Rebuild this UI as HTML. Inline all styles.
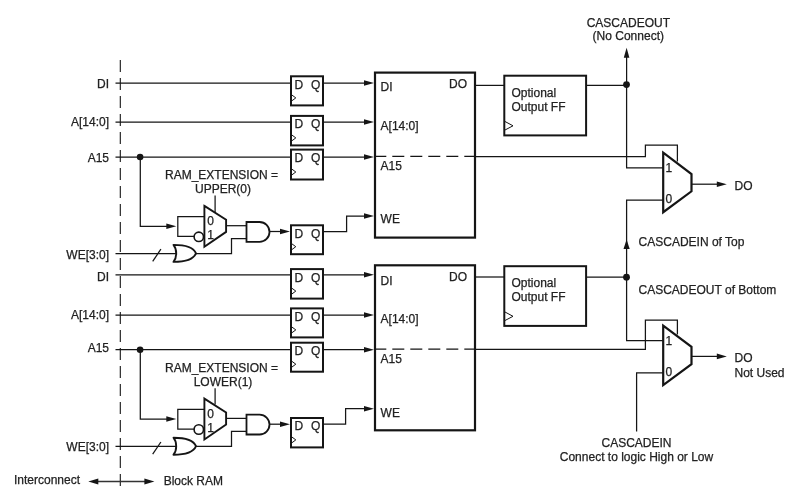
<!DOCTYPE html>
<html><head><meta charset="utf-8"><style>
html,body{margin:0;padding:0;background:#fff;}
svg{display:block;will-change:transform;}
text{font-family:"Liberation Sans",sans-serif;fill:#222;stroke:#222;stroke-width:0.25px;}
</style></head><body>
<svg width="791" height="489" viewBox="0 0 791 489">
<rect width="791" height="489" fill="#fff"/>
<path d="M120.3,60 V486" stroke="#151515" stroke-width="1.1" fill="none" stroke-dasharray="12 6"/><text x="109" y="87.8" text-anchor="end" font-size="12">DI</text><text x="109" y="126.4" text-anchor="end" font-size="12">A[14:0]</text><text x="109" y="161.7" text-anchor="end" font-size="12">A15</text><text x="109" y="258.8" text-anchor="end" font-size="12">WE[3:0]</text><path d="M115.5,83 H290" stroke="#151515" stroke-width="1.25" fill="none"/><path d="M115.5,122 H290" stroke="#151515" stroke-width="1.25" fill="none"/><path d="M115.5,157 H290" stroke="#151515" stroke-width="1.25" fill="none"/><path d="M115.5,253.5 H176" stroke="#151515" stroke-width="1.25" fill="none"/><circle cx="140.1" cy="157" r="3.3" fill="#151515"/><path d="M140.3,157 V226.3 H170" stroke="#151515" stroke-width="1.25" fill="none"/><path d="M166.3,223.5 L176.3,226.3 L166.3,229.10000000000002 Z" fill="#151515"/><path d="M204.4,216.60000000000002 H177.8 V236.40000000000003 H194" stroke="#151515" stroke-width="1.25" fill="none"/><circle cx="198.8" cy="236.8" r="4.7" fill="none" stroke="#151515" stroke-width="1.6"/><path d="M204.4,205.90000000000003 L226.1,219.70000000000002 V231.90000000000003 L204.4,246.8 Z" fill="white" stroke="#151515" stroke-width="1.9"/><text x="207.2" y="224.90000000000003" text-anchor="start" font-size="12">0</text><text x="207.2" y="239.00000000000003" text-anchor="start" font-size="12">1</text><path d="M215.1,195.60000000000002 V211.90000000000003" stroke="#151515" stroke-width="1.25" fill="none"/><text x="221.5" y="178.70000000000002" text-anchor="middle" font-size="12">RAM_EXTENSION =</text><text x="223" y="193.10000000000002" text-anchor="middle" font-size="12">UPPER(0)</text><path d="M226.1,225.70000000000002 H246" stroke="#151515" stroke-width="1.25" fill="none"/><path d="M246.5,222.00000000000003 H259.6 A9.9,9.9 0 0 1 259.6,241.8 H246.5 Z" fill="white" stroke="#151515" stroke-width="1.8"/><path d="M269,231.50000000000003 H280" stroke="#151515" stroke-width="1.25" fill="none"/><path d="M280,228.70000000000002 L290,231.50000000000003 L280,234.30000000000004 Z" fill="#151515"/><path d="M195.4,253.5 H231.5 V238.60000000000002 H246" stroke="#151515" stroke-width="1.25" fill="none"/><path d="M173.5,244.9 C188,244.9 194,248.5 196,253.3 C194,258.1 188,261.9 173.5,261.9 C177.1,257.5 177.1,249.3 173.5,244.9 Z" fill="white" stroke="#151515" stroke-width="1.9" stroke-linejoin="round"/><path d="M152.7,261.3 L160.9,249.2" stroke="#151515" stroke-width="1.25" fill="none"/><rect x="291" y="76.3" width="32" height="29.1" fill="none" stroke="#151515" stroke-width="2"/><text x="294.5" y="88.7" text-anchor="start" font-size="12">D</text><text x="311" y="88.7" text-anchor="start" font-size="12">Q</text><path d="M292,95.10000000000001 L295.8,97.9 L292,100.7" fill="none" stroke="#151515" stroke-width="1"/><rect x="291" y="115.9" width="32" height="29.5" fill="none" stroke="#151515" stroke-width="2"/><text x="294.5" y="128.3" text-anchor="start" font-size="12">D</text><text x="311" y="128.3" text-anchor="start" font-size="12">Q</text><path d="M292,135.1 L295.8,137.9 L292,140.70000000000002" fill="none" stroke="#151515" stroke-width="1"/><rect x="291" y="149.6" width="32" height="29.9" fill="none" stroke="#151515" stroke-width="2"/><text x="294.5" y="162.0" text-anchor="start" font-size="12">D</text><text x="311" y="162.0" text-anchor="start" font-size="12">Q</text><path d="M292,169.2 L295.8,172.0 L292,174.8" fill="none" stroke="#151515" stroke-width="1"/><rect x="291" y="225.3" width="32" height="28.9" fill="none" stroke="#151515" stroke-width="2"/><text x="294.5" y="237.70000000000002" text-anchor="start" font-size="12">D</text><text x="311" y="237.70000000000002" text-anchor="start" font-size="12">Q</text><path d="M292,243.9 L295.8,246.70000000000002 L292,249.50000000000003" fill="none" stroke="#151515" stroke-width="1"/><path d="M323,83 H366" stroke="#151515" stroke-width="1.25" fill="none"/><path d="M364,80.2 L374,83 L364,85.8 Z" fill="#151515"/><path d="M323,122 H366" stroke="#151515" stroke-width="1.25" fill="none"/><path d="M364,119.2 L374,122 L364,124.8 Z" fill="#151515"/><path d="M323,157 H366" stroke="#151515" stroke-width="1.25" fill="none"/><path d="M364,154.2 L374,157 L364,159.8 Z" fill="#151515"/><path d="M323,231.50000000000003 H346.6 V216.0 H366" stroke="#151515" stroke-width="1.25" fill="none"/><path d="M364,213.2 L374,216.0 L364,218.8 Z" fill="#151515"/><rect x="375" y="72.6" width="100" height="165" fill="none" stroke="#151515" stroke-width="2.2"/><text x="380.6" y="91.2" text-anchor="start" font-size="12">DI</text><text x="380.6" y="129.6" text-anchor="start" font-size="12">A[14:0]</text><text x="380.6" y="169.5" text-anchor="start" font-size="12">A15</text><text x="380.6" y="223.2" text-anchor="start" font-size="12">WE</text><text x="467" y="87.8" text-anchor="end" font-size="12">DO</text><path d="M374.3,156.4 H475" stroke="#151515" stroke-width="1.25" fill="none" stroke-dasharray="12 6"/><path d="M475,85.4 H504" stroke="#151515" stroke-width="1.25" fill="none"/><rect x="504.3" y="75.7" width="81.8" height="59.7" fill="none" stroke="#151515" stroke-width="2"/><text x="511.5" y="96.8" text-anchor="start" font-size="12">Optional</text><text x="511.5" y="110.8" text-anchor="start" font-size="12">Output FF</text><path d="M505,121.5 L513,125.8 L505,130.0" fill="none" stroke="#151515" stroke-width="1"/><path d="M587,85.4 H626.6" stroke="#151515" stroke-width="1.25" fill="none"/><circle cx="626.5" cy="84.6" r="3.4" fill="#151515"/><path d="M626.6,84.6 V167.8 H663" stroke="#151515" stroke-width="1.25" fill="none"/><path d="M475,156.6 H645.4 V145.2 H677.4 V161.5" stroke="#151515" stroke-width="1.25" fill="none"/><path d="M663.2,152.7 L691.5,174.0 V191.3 L663.2,212.2 Z" fill="none" stroke="#151515" stroke-width="2.2"/><text x="665.5" y="172.0" text-anchor="start" font-size="12">1</text><text x="665.5" y="203.4" text-anchor="start" font-size="12">0</text><path d="M691.5,184.2 H718" stroke="#151515" stroke-width="1.25" fill="none"/><path d="M716.8,181.39999999999998 L726.8,184.2 L716.8,187.0 Z" fill="#151515"/><text x="734.5" y="189.79999999999998" text-anchor="start" font-size="12">DO</text><text x="109" y="280.9" text-anchor="end" font-size="12">DI</text><text x="109" y="319.3" text-anchor="end" font-size="12">A[14:0]</text><text x="109" y="352.4" text-anchor="end" font-size="12">A15</text><text x="109" y="450.8" text-anchor="end" font-size="12">WE[3:0]</text><path d="M115.5,274.8 H290" stroke="#151515" stroke-width="1.25" fill="none"/><path d="M115.5,315 H290" stroke="#151515" stroke-width="1.25" fill="none"/><path d="M115.5,349.7 H290" stroke="#151515" stroke-width="1.25" fill="none"/><path d="M115.5,446.3 H176" stroke="#151515" stroke-width="1.25" fill="none"/><circle cx="140.1" cy="349.7" r="3.3" fill="#151515"/><path d="M140.3,349.7 V419.0 H170" stroke="#151515" stroke-width="1.25" fill="none"/><path d="M166.3,416.2 L176.3,419.0 L166.3,421.8 Z" fill="#151515"/><path d="M204.4,409.3 H177.8 V429.1 H194" stroke="#151515" stroke-width="1.25" fill="none"/><circle cx="198.8" cy="429.5" r="4.7" fill="none" stroke="#151515" stroke-width="1.6"/><path d="M204.4,398.6 L226.1,412.4 V424.6 L204.4,439.5 Z" fill="white" stroke="#151515" stroke-width="1.9"/><text x="207.2" y="417.6" text-anchor="start" font-size="12">0</text><text x="207.2" y="431.70000000000005" text-anchor="start" font-size="12">1</text><path d="M215.1,388.3 V404.6" stroke="#151515" stroke-width="1.25" fill="none"/><text x="221.5" y="372.09999999999997" text-anchor="middle" font-size="12">RAM_EXTENSION =</text><text x="223" y="386.22" text-anchor="middle" font-size="12">LOWER(1)</text><path d="M226.1,418.4 H246" stroke="#151515" stroke-width="1.25" fill="none"/><path d="M246.5,414.70000000000005 H259.6 A9.9,9.9 0 0 1 259.6,434.5 H246.5 Z" fill="white" stroke="#151515" stroke-width="1.8"/><path d="M269,424.20000000000005 H280" stroke="#151515" stroke-width="1.25" fill="none"/><path d="M280,421.40000000000003 L290,424.20000000000005 L280,427.00000000000006 Z" fill="#151515"/><path d="M195.4,446.3 H231.5 V431.3 H246" stroke="#151515" stroke-width="1.25" fill="none"/><path d="M173.5,437.7 C188,437.7 194,441.3 196,446.1 C194,450.90000000000003 188,454.7 173.5,454.7 C177.1,450.3 177.1,442.1 173.5,437.7 Z" fill="white" stroke="#151515" stroke-width="1.9" stroke-linejoin="round"/><path d="M152.7,454.1 L160.9,442.0" stroke="#151515" stroke-width="1.25" fill="none"/><rect x="291" y="269.1" width="32" height="29.5" fill="none" stroke="#151515" stroke-width="2"/><text x="294.5" y="281.5" text-anchor="start" font-size="12">D</text><text x="311" y="281.5" text-anchor="start" font-size="12">Q</text><path d="M292,288.3 L295.8,291.1 L292,293.90000000000003" fill="none" stroke="#151515" stroke-width="1"/><rect x="291" y="308.4" width="32" height="29" fill="none" stroke="#151515" stroke-width="2"/><text x="294.5" y="320.79999999999995" text-anchor="start" font-size="12">D</text><text x="311" y="320.79999999999995" text-anchor="start" font-size="12">Q</text><path d="M292,327.09999999999997 L295.8,329.9 L292,332.7" fill="none" stroke="#151515" stroke-width="1"/><rect x="291" y="342.7" width="32" height="29" fill="none" stroke="#151515" stroke-width="2"/><text x="294.5" y="355.09999999999997" text-anchor="start" font-size="12">D</text><text x="311" y="355.09999999999997" text-anchor="start" font-size="12">Q</text><path d="M292,361.4 L295.8,364.2 L292,367.0" fill="none" stroke="#151515" stroke-width="1"/><rect x="291" y="418" width="32" height="29.4" fill="none" stroke="#151515" stroke-width="2"/><text x="294.5" y="430.4" text-anchor="start" font-size="12">D</text><text x="311" y="430.4" text-anchor="start" font-size="12">Q</text><path d="M292,437.09999999999997 L295.8,439.9 L292,442.7" fill="none" stroke="#151515" stroke-width="1"/><path d="M323,274.8 H366" stroke="#151515" stroke-width="1.25" fill="none"/><path d="M364,272.0 L374,274.8 L364,277.6 Z" fill="#151515"/><path d="M323,315 H366" stroke="#151515" stroke-width="1.25" fill="none"/><path d="M364,312.2 L374,315 L364,317.8 Z" fill="#151515"/><path d="M323,349.7 H366" stroke="#151515" stroke-width="1.25" fill="none"/><path d="M364,346.9 L374,349.7 L364,352.5 Z" fill="#151515"/><path d="M323,424.20000000000005 H345.6 V408.70000000000005 H366" stroke="#151515" stroke-width="1.25" fill="none"/><path d="M364,405.90000000000003 L374,408.70000000000005 L364,411.50000000000006 Z" fill="#151515"/><rect x="375" y="265.3" width="100" height="165" fill="none" stroke="#151515" stroke-width="2.2"/><text x="380.6" y="284.6" text-anchor="start" font-size="12">DI</text><text x="380.6" y="323.0" text-anchor="start" font-size="12">A[14:0]</text><text x="380.6" y="362.9" text-anchor="start" font-size="12">A15</text><text x="380.6" y="416.6" text-anchor="start" font-size="12">WE</text><text x="467" y="280.5" text-anchor="end" font-size="12">DO</text><path d="M374.3,349.09999999999997 H475" stroke="#151515" stroke-width="1.25" fill="none" stroke-dasharray="12 6"/><path d="M475,277 H504" stroke="#151515" stroke-width="1.25" fill="none"/><rect x="504.3" y="266.2" width="81.8" height="59.7" fill="none" stroke="#151515" stroke-width="2"/><text x="511.5" y="287.3" text-anchor="start" font-size="12">Optional</text><text x="511.5" y="301.3" text-anchor="start" font-size="12">Output FF</text><path d="M505,312.0 L513,316.3 L505,320.5" fill="none" stroke="#151515" stroke-width="1"/><path d="M587,277 H626.6" stroke="#151515" stroke-width="1.25" fill="none"/><circle cx="626.5" cy="277.2" r="3.4" fill="#151515"/><path d="M626.6,277.2 V340.5 H663" stroke="#151515" stroke-width="1.25" fill="none"/><path d="M475,349.3 H645.4 V320.2 H677.4 V334.40000000000003" stroke="#151515" stroke-width="1.25" fill="none"/><path d="M663.2,325.6 L691.5,346.90000000000003 V364.20000000000005 L663.2,385.1 Z" fill="none" stroke="#151515" stroke-width="2.2"/><text x="665.5" y="344.90000000000003" text-anchor="start" font-size="12">1</text><text x="665.5" y="376.30000000000007" text-anchor="start" font-size="12">0</text><path d="M691.5,356.4 H718" stroke="#151515" stroke-width="1.25" fill="none"/><path d="M716.8,353.59999999999997 L726.8,356.4 L716.8,359.2 Z" fill="#151515"/><text x="734.5" y="362.0" text-anchor="start" font-size="12">DO</text><path d="M626.6,56 V84.8" stroke="#151515" stroke-width="1.25" fill="none"/><path d="M623.8000000000001,57.8 L626.6,47.8 L629.4,57.8 Z" fill="#151515"/><text x="628.3" y="26.5" text-anchor="middle" font-size="12">CASCADEOUT</text><text x="628.3" y="40" text-anchor="middle" font-size="12">(No Connect)</text><path d="M663,200.2 H626.6 V277.2" stroke="#151515" stroke-width="1.25" fill="none"/><path d="M623.5,249.1 L626.6,239.6 L629.7,249.1 Z" fill="#151515"/><text x="638.6" y="245.9" text-anchor="start" font-size="12">CASCADEIN of Top</text><text x="638.5" y="294.2" text-anchor="start" font-size="12">CASCADEOUT of Bottom</text><path d="M663,372.79999999999995 H636.6 V431.5" stroke="#151515" stroke-width="1.25" fill="none"/><text x="636.5" y="446.5" text-anchor="middle" font-size="12">CASCADEIN</text><text x="636.5" y="461" text-anchor="middle" font-size="12">Connect to logic High or Low</text><text x="734.5" y="377" text-anchor="start" font-size="12">Not Used</text><path d="M96,481.5 H146" stroke="#333" stroke-width="1.5" fill="none"/><path d="M98.3,478.5 L88.3,481.5 L98.3,484.5 Z" fill="#151515"/><path d="M144.4,478.5 L154.4,481.5 L144.4,484.5 Z" fill="#151515"/><text x="14" y="483.7" text-anchor="start" font-size="12">Interconnect</text><text x="163.7" y="485" text-anchor="start" font-size="12">Block RAM</text>
</svg></body></html>
